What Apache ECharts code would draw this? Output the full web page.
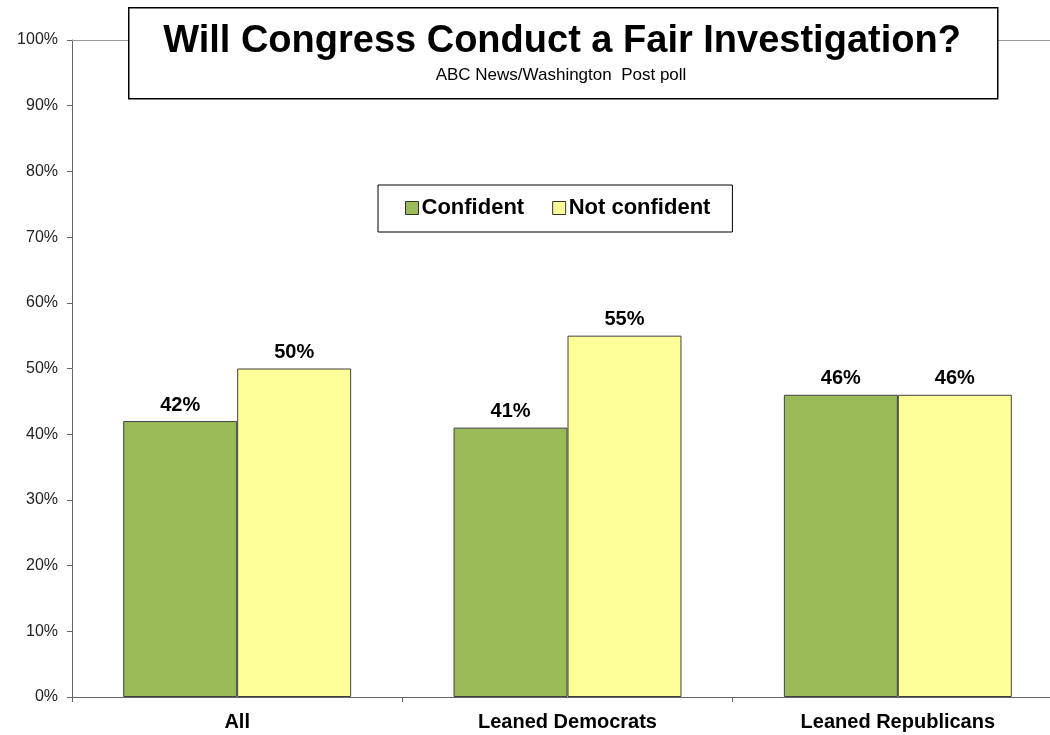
<!DOCTYPE html>
<html><head><meta charset="utf-8">
<script src="https://cdn.jsdelivr.net/npm/echarts@6/dist/echarts.min.js"></script>
<style>html,body{margin:0;padding:0;background:#fff}#c{width:1050px;height:735px}</style>
</head><body><div id="c"></div>
<script>
const categories = ['All', 'Leaned Democrats', 'Leaned Republicans'];
const confident = [42, 41, 46];
const notConfident = [50, 55, 46];
const yTicks = [0, 10, 20, 30, 40, 50, 60, 70, 80, 90, 100];

const chart = echarts.init(document.getElementById('c'), null, {renderer: 'canvas'});
const font = 'Liberation Sans, Arial, sans-serif';
const lbl = {show: true, position: 'top', formatter: '{c}%', fontFamily: font, fontWeight: 'bold', fontSize: 20, color: '#000', distance: 6};
chart.setOption({
  animation: false,
  textStyle: {fontFamily: font},
  grid: {left: 72, top: 40, width: 991, bottom: 38, containLabel: false, outerBoundsMode: 'none'},
  legend: {
    left: 378, top: 185,
    padding: [12, 22, 13, 27],
    borderColor: '#000', borderWidth: 1, backgroundColor: '#fff',
    itemWidth: 13, itemHeight: 13, itemGap: 28,
    icon: 'rect',
    textStyle: {fontFamily: font, fontWeight: 'bold', fontSize: 22, color: '#000', padding: [0, 0, 0, -2]},
    data: [
      {name: 'Confident', itemStyle: {borderColor: '#333', borderWidth: 1}},
      {name: 'Not confident', itemStyle: {borderColor: '#333', borderWidth: 1}}
    ]
  },
  xAxis: [{
    type: 'category', data: categories,
    axisLine: {lineStyle: {color: '#666', width: 1}},
    axisTick: {show: true, length: 5, lineStyle: {color: '#666'}},
    axisLabel: {fontFamily: font, fontWeight: 'bold', fontSize: 20, color: '#000', margin: 15}
  }, {
    type: 'category', data: categories, position: 'top',
    axisLine: {show: true, lineStyle: {color: '#999', width: 1}},
    axisTick: {show: false}, axisLabel: {show: false}
  }],
  yAxis: {
    type: 'value', min: 0, max: 100, interval: 10,
    axisLine: {show: true, lineStyle: {color: '#666', width: 1}},
    axisTick: {show: true, length: 5, lineStyle: {color: '#666'}},
    splitLine: {show: false},
    axisLabel: {fontFamily: font, fontSize: 16, color: '#222', margin: 14,
      formatter: v => yTicks.includes(v) ? v + '%' : ''}
  },
  series: [
    {name: 'Confident', type: 'bar', data: confident, barGap: '0%', barCategoryGap: '31%',
     itemStyle: {color: '#9BBB59', borderColor: '#404040', borderWidth: 1}, label: lbl},
    {name: 'Not confident', type: 'bar', data: notConfident,
     itemStyle: {color: '#FFFF99', borderColor: '#404040', borderWidth: 1}, label: lbl}
  ],
  graphic: [
    {type: 'rect', left: 128, top: 7, z: 100,
     shape: {width: 869, height: 91}, style: {fill: '#fff', stroke: '#000', lineWidth: 1.5}},
    {type: 'text', z: 101, x: 562, y: 42,
     style: {text: 'Will Congress Conduct a Fair Investigation?', font: 'bold 38px Liberation Sans, Arial, sans-serif', fill: '#000', align: 'center', verticalAlign: 'middle'}},
    {type: 'text', z: 101, x: 561, y: 75,
     style: {text: 'ABC News/Washington  Post poll', font: '17px Liberation Sans, Arial, sans-serif', fill: '#000', align: 'center', verticalAlign: 'middle'}}
  ]
});
</script></body></html>
